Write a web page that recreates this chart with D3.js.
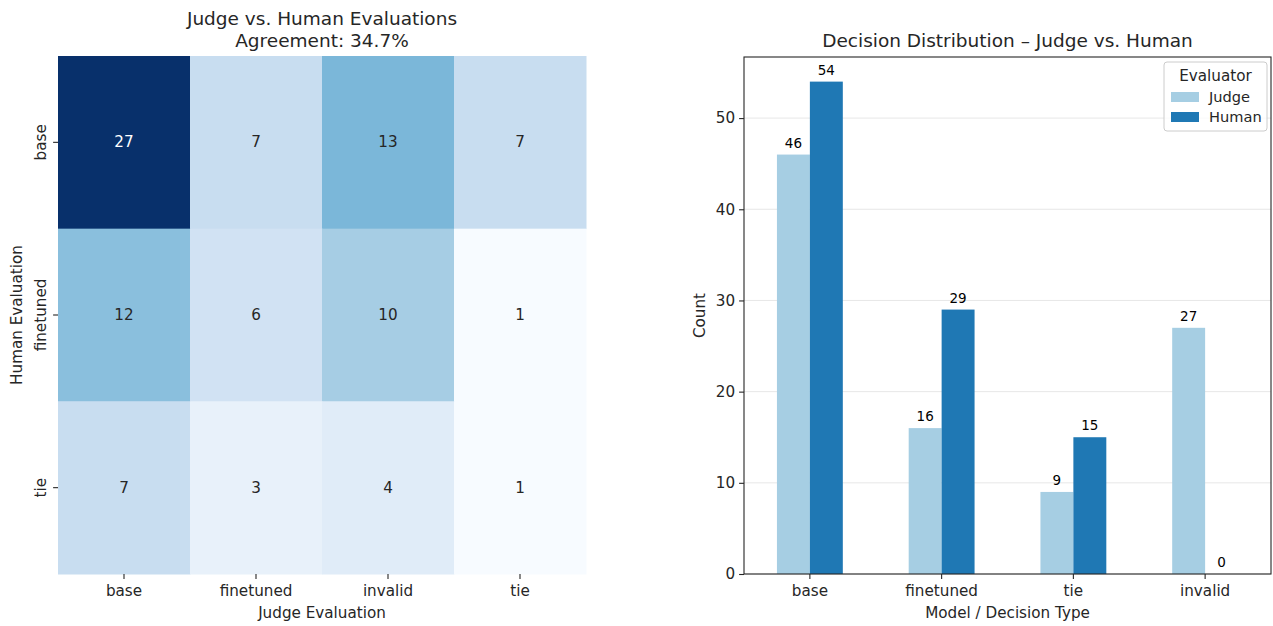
<!DOCTYPE html>
<html>
<head>
<meta charset="utf-8">
<script src="https://cdn.jsdelivr.net/npm/d3@7"></script>
<style>
  html, body { margin: 0; padding: 0; background: #fff; }
  svg { display: block; font-family: "DejaVu Sans", sans-serif; }
</style>
</head>
<body>
<svg id="chart" width="1273" height="626"></svg>
<script>
// Confusion matrix: rows = human label, columns = judge label
const humanLabels = ["base", "finetuned", "tie"];
const judgeLabels = ["base", "finetuned", "invalid", "tie"];
const matrixBase = [27, 7, 13, 7];
const matrixFinetuned = [12, 6, 10, 1];
const matrixTie = [7, 3, 4, 1];
const agreementPct = 34.7;

// Decision counts per evaluator
const decisionTypes = ["base", "finetuned", "tie", "invalid"];
const judgeCounts = [46, 16, 9, 27];
const humanCounts = [54, 29, 15, 0];
const countTicks = [0, 10, 20, 30, 40, 50];
const evaluators = ["Judge", "Human"];
const evaluatorColors = ["#a6cee3", "#1f78b4"];

const svg = d3.select("#chart");
const textColor = "#262626";
const tickSize = 15.2;
const titleSize = 18.5;

// ---------- Heatmap ----------
const hm = { left: 58, right: 586, top: 56, bottom: 574 };
const matrix = [matrixBase, matrixFinetuned, matrixTie];
const cells = [];
matrix.forEach((row, i) => row.forEach((v, j) => cells.push({ h: humanLabels[i], j: judgeLabels[j], v })));

const hx = d3.scaleBand().domain(judgeLabels).range([hm.left, hm.right]);
const hy = d3.scaleBand().domain(humanLabels).range([hm.top, hm.bottom]);
const vals = cells.map(d => d.v);
const color = d3.scaleSequential(d3.interpolateBlues).domain([d3.min(vals), d3.max(vals)]);

const hg = svg.append("g");
hg.selectAll("rect.cell").data(cells).join("rect")
  .attr("class", "cell")
  .attr("x", d => hx(d.j)).attr("y", d => hy(d.h))
  .attr("width", hx.bandwidth() + 0.5).attr("height", hy.bandwidth() + 0.5)
  .attr("fill", d => color(d.v));

hg.selectAll("text.val").data(cells).join("text")
  .attr("class", "val")
  .attr("x", d => hx(d.j) + hx.bandwidth() / 2)
  .attr("y", d => hy(d.h) + hy.bandwidth() / 2)
  .attr("text-anchor", "middle").attr("dominant-baseline", "central")
  .attr("font-size", tickSize)
  .attr("fill", d => d3.hsl(color(d.v)).l < 0.5 ? "#ffffff" : textColor)
  .text(d => d.v);

const hxAxis = hg.append("g").attr("transform", `translate(0,${hm.bottom})`)
  .call(d3.axisBottom(hx).tickSize(4.9).tickPadding(6));
hxAxis.select(".domain").remove();
const hyAxis = hg.append("g").attr("transform", `translate(${hm.left},0)`)
  .call(d3.axisLeft(hy).tickSize(4.9).tickPadding(6));
hyAxis.select(".domain").remove();
[hxAxis, hyAxis].forEach(a => {
  a.selectAll("line").attr("stroke", textColor).attr("stroke-width", 1.1);
  a.selectAll("text").attr("font-size", tickSize).attr("fill", textColor)
    .attr("font-family", "DejaVu Sans, sans-serif");
});
// row labels run vertically beside the ticks
hyAxis.selectAll("text").attr("transform", "rotate(-90)").attr("x", 0).attr("y", -12)
  .attr("dy", "0").attr("text-anchor", "middle");

hg.append("text").attr("x", (hm.left + hm.right) / 2).attr("y", 618)
  .attr("text-anchor", "middle").attr("font-size", tickSize).attr("fill", textColor)
  .text("Judge Evaluation");
hg.append("text").attr("transform", `translate(22,${(hm.top + hm.bottom) / 2}) rotate(-90)`)
  .attr("text-anchor", "middle").attr("font-size", tickSize).attr("fill", textColor)
  .text("Human Evaluation");
hg.append("text").attr("x", (hm.left + hm.right) / 2).attr("y", 25)
  .attr("text-anchor", "middle").attr("font-size", titleSize).attr("fill", textColor)
  .text("Judge vs. Human Evaluations");
hg.append("text").attr("x", (hm.left + hm.right) / 2).attr("y", 47)
  .attr("text-anchor", "middle").attr("font-size", titleSize).attr("fill", textColor)
  .text(`Agreement: ${agreementPct.toFixed(1)}%`);

// ---------- Grouped bar chart ----------
const bc = { left: 744, right: 1271, top: 57, bottom: 574 };
const bx = d3.scaleBand().domain(decisionTypes).range([bc.left, bc.right]);
const maxCount = d3.max([...judgeCounts, ...humanCounts]);
const by = d3.scaleLinear().domain([0, maxCount * 1.05]).range([bc.bottom, bc.top]);
const sub = d3.scaleBand().domain(evaluators).range([0, bx.bandwidth() * 0.5]);
const series = [judgeCounts, humanCounts];

const bg = svg.append("g");
// light horizontal grid
bg.selectAll("line.grid").data(countTicks).join("line")
  .attr("class", "grid")
  .attr("x1", bc.left).attr("x2", bc.right)
  .attr("y1", d => by(d)).attr("y2", d => by(d))
  .attr("stroke", "#b0b0b0").attr("stroke-opacity", 0.3).attr("stroke-width", 1);

const barData = [];
decisionTypes.forEach((c, i) => evaluators.forEach((e, k) => barData.push({ c, e, k, v: series[k][i] })));
const offset = bx.bandwidth() * 0.25;
bg.selectAll("rect.bar").data(barData).join("rect")
  .attr("class", "bar")
  .attr("x", d => bx(d.c) + offset + sub(d.e))
  .attr("y", d => by(d.v))
  .attr("width", sub.bandwidth())
  .attr("height", d => by(0) - by(d.v))
  .attr("fill", d => evaluatorColors[d.k]);

bg.selectAll("text.lbl").data(barData).join("text")
  .attr("class", "lbl")
  .attr("x", d => bx(d.c) + offset + sub(d.e) + sub.bandwidth() / 2)
  .attr("y", d => by(d.v) - 7)
  .attr("text-anchor", "middle").attr("font-size", 13.5).attr("fill", "#000")
  .text(d => d.v);

const bxAxis = bg.append("g").attr("transform", `translate(0,${bc.bottom})`)
  .call(d3.axisBottom(bx).tickSize(4.9).tickPadding(6));
const byAxis = bg.append("g").attr("transform", `translate(${bc.left},0)`)
  .call(d3.axisLeft(by).tickValues(countTicks).tickSize(4.9).tickPadding(4));
[bxAxis, byAxis].forEach(a => {
  a.select(".domain").remove();
  a.selectAll("line").attr("stroke", textColor).attr("stroke-width", 1.1);
  a.selectAll("text").attr("font-size", tickSize).attr("fill", textColor)
    .attr("font-family", "DejaVu Sans, sans-serif");
});
// frame
bg.append("rect").attr("x", bc.left).attr("y", bc.top)
  .attr("width", bc.right - bc.left).attr("height", bc.bottom - bc.top)
  .attr("fill", "none").attr("stroke", textColor).attr("stroke-width", 1.1);

bg.append("text").attr("x", (bc.left + bc.right) / 2).attr("y", 618)
  .attr("text-anchor", "middle").attr("font-size", tickSize).attr("fill", textColor)
  .text("Model / Decision Type");
bg.append("text").attr("transform", `translate(705,${(bc.top + bc.bottom) / 2}) rotate(-90)`)
  .attr("text-anchor", "middle").attr("font-size", tickSize).attr("fill", textColor)
  .text("Count");
bg.append("text").attr("x", (bc.left + bc.right) / 2).attr("y", 47)
  .attr("text-anchor", "middle").attr("font-size", titleSize).attr("fill", textColor)
  .text("Decision Distribution – Judge vs. Human");

// legend
const lg = bg.append("g").attr("transform", "translate(1164,62)");
lg.append("rect").attr("width", 103).attr("height", 69).attr("rx", 3)
  .attr("fill", "#fff").attr("fill-opacity", 0.8)
  .attr("stroke", "#cccccc").attr("stroke-width", 1);
lg.append("text").attr("x", 51.5).attr("y", 19).attr("text-anchor", "middle")
  .attr("font-size", tickSize).attr("fill", textColor).text("Evaluator");
evaluators.forEach((e, k) => {
  lg.append("rect").attr("x", 7).attr("y", 30 + k * 20).attr("width", 28).attr("height", 10)
    .attr("fill", evaluatorColors[k]);
  lg.append("text").attr("x", 45).attr("y", 40 + k * 20)
    .attr("font-size", 14.6).attr("fill", textColor).text(e);
});
</script>
</body>
</html>
